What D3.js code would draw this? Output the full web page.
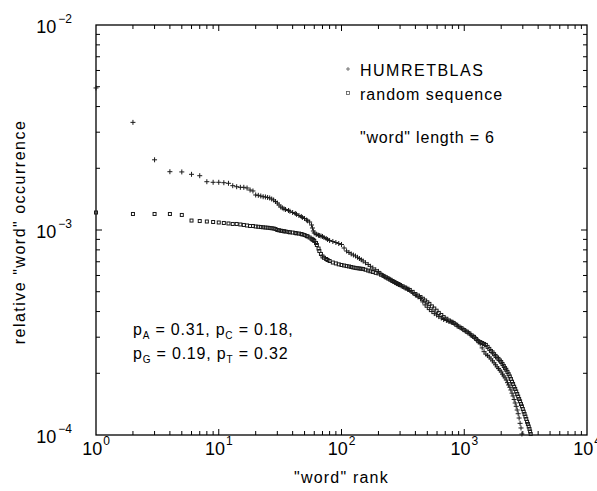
<!DOCTYPE html>
<html>
<head>
<meta charset="utf-8">
<script src="https://cdn.jsdelivr.net/npm/d3@7"></script>
<style>
  body { margin: 0; background: #fff; }
  svg text { font-family: "Liberation Sans", Arial, Helvetica, sans-serif; fill: #000; }
</style>
</head>
<body>
<div class="main"></div>
<script>
// rank / relative occurrence
const humRank = [1,2,3,4,5,6,7,8,9,10,11,12,13,14,15,16,17,18,19,20,21,22,23,24,25,26,27,28,29,30,31,32,33,34,35,37,38,40,42,43,45,47,48,50,52,53,55,57,58,59,60,62,63,65,66,68,70,72,75,77,80,85,90,95,100,105,110,115,120,125,130,135,140,145,150,157,165,172,180,190,200,210,220,230,240,250,260,270,280,290,300,315,330,345,360,380,400,420,440,460,480,500,520,545,570,595,620,650,680,715,750,785,820,860,900,950,1000,1050,1100,1150,1200,1250,1300,1350,1400,1450,1500,1550,1600,1650,1700,1750,1800,1850,1900,1950,2000,2050,2100,2150,2200,2250,2300,2350,2400,2450,2500,2550,2600,2650,2700,2750,2800,2850,2900,2950];
const humValue = [4.93e-3,3.35e-3,2.20e-3,1.925e-3,1.92e-3,1.869e-3,1.84e-3,1.72e-3,1.709e-3,1.709e-3,1.701e-3,1.69e-3,1.645e-3,1.626e-3,1.615e-3,1.615e-3,1.603e-3,1.567e-3,1.55e-3,1.482e-3,1.476e-3,1.465e-3,1.453e-3,1.449e-3,1.441e-3,1.433e-3,1.416e-3,1.401e-3,1.377e-3,1.354e-3,1.324e-3,1.295e-3,1.282e-3,1.268e-3,1.259e-3,1.245e-3,1.234e-3,1.217e-3,1.204e-3,1.193e-3,1.177e-3,1.164e-3,1.151e-3,1.138e-3,1.119e-3,1.109e-3,1.094e-3,1.058e-3,1.023e-3,9.89e-4,9.67e-4,9.56e-4,9.51e-4,9.43e-4,9.40e-4,9.35e-4,9.30e-4,9.19e-4,9.09e-4,8.99e-4,8.89e-4,8.79e-4,8.69e-4,8.59e-4,8.50e-4,8.17e-4,7.90e-4,7.77e-4,7.64e-4,7.55e-4,7.47e-4,7.36e-4,7.26e-4,7.16e-4,7.06e-4,6.92e-4,6.79e-4,6.65e-4,6.53e-4,6.40e-4,6.28e-4,6.11e-4,5.97e-4,5.88e-4,5.80e-4,5.72e-4,5.64e-4,5.56e-4,5.48e-4,5.43e-4,5.39e-4,5.30e-4,5.21e-4,5.14e-4,5.07e-4,4.94e-4,4.82e-4,4.72e-4,4.63e-4,4.46e-4,4.31e-4,4.20e-4,4.09e-4,4.00e-4,3.91e-4,3.85e-4,3.78e-4,3.72e-4,3.66e-4,3.62e-4,3.58e-4,3.55e-4,3.52e-4,3.45e-4,3.38e-4,3.32e-4,3.25e-4,3.19e-4,3.13e-4,3.06e-4,3.01e-4,2.94e-4,2.87e-4,2.78e-4,2.66e-4,2.55e-4,2.48e-4,2.44e-4,2.40e-4,2.35e-4,2.30e-4,2.25e-4,2.20e-4,2.15e-4,2.11e-4,2.07e-4,2.03e-4,1.98e-4,1.94e-4,1.90e-4,1.855e-4,1.80e-4,1.754e-4,1.71e-4,1.658e-4,1.60e-4,1.55e-4,1.49e-4,1.433e-4,1.38e-4,1.324e-4,1.27e-4,1.21e-4,1.14e-4,1.082e-4,1.011e-4];

const rndRank = [1,2,3,4,5,6,7,8,9,10,11,12,13,14,15,16,17,18,19,20,21,22,23,24,25,26,27,28,29,30,31,32,33,34,35,37,38,40,42,43,45,47,48,50,52,53,55,57,58,59,60,62,63,65,66,68,70,72,75,77,80,85,90,95,100,105,110,115,120,125,130,135,140,145,150,157,165,172,180,190,200,210,220,230,240,250,260,270,280,290,300,315,330,345,360,380,400,420,440,460,480,500,520,545,570,595,620,650,680,715,750,785,820,860,900,950,1000,1050,1100,1150,1200,1250,1300,1350,1400,1450,1500,1550,1600,1650,1700,1750,1800,1850,1900,1950,2000,2050,2100,2150,2200,2250,2300,2350,2400,2450,2500,2550,2600,2650,2700,2750,2800,2850,2900,2950,3000,3050,3100,3150,3200,3250,3300,3350,3400,3440,3480];
const rndValue = [1.217e-3,1.197e-3,1.197e-3,1.197e-3,1.184e-3,1.112e-3,1.106e-3,1.10e-3,1.094e-3,1.088e-3,1.082e-3,1.076e-3,1.07e-3,1.07e-3,1.064e-3,1.058e-3,1.052e-3,1.046e-3,1.046e-3,1.04e-3,1.037e-3,1.034e-3,1.031e-3,1.028e-3,1.026e-3,1.023e-3,1.02e-3,1.017e-3,1.011e-3,1.0e-3,9.97e-4,9.92e-4,9.89e-4,9.86e-4,9.83e-4,9.78e-4,9.74e-4,9.72e-4,9.67e-4,9.63e-4,9.61e-4,9.56e-4,9.51e-4,9.45e-4,9.35e-4,9.30e-4,9.19e-4,9.06e-4,8.99e-4,8.94e-4,8.84e-4,8.64e-4,8.45e-4,8.12e-4,7.90e-4,7.64e-4,7.43e-4,7.32e-4,7.22e-4,7.14e-4,7.06e-4,6.94e-4,6.87e-4,6.80e-4,6.75e-4,6.71e-4,6.67e-4,6.64e-4,6.60e-4,6.56e-4,6.53e-4,6.51e-4,6.49e-4,6.47e-4,6.45e-4,6.40e-4,6.34e-4,6.29e-4,6.24e-4,6.18e-4,6.14e-4,6.05e-4,5.97e-4,5.88e-4,5.80e-4,5.72e-4,5.64e-4,5.58e-4,5.51e-4,5.45e-4,5.39e-4,5.31e-4,5.24e-4,5.17e-4,5.10e-4,4.99e-4,4.87e-4,4.79e-4,4.71e-4,4.62e-4,4.53e-4,4.44e-4,4.36e-4,4.24e-4,4.14e-4,4.04e-4,3.94e-4,3.85e-4,3.76e-4,3.69e-4,3.62e-4,3.57e-4,3.52e-4,3.45e-4,3.38e-4,3.32e-4,3.25e-4,3.19e-4,3.13e-4,3.06e-4,3.01e-4,2.94e-4,2.87e-4,2.84e-4,2.81e-4,2.78e-4,2.75e-4,2.69e-4,2.63e-4,2.57e-4,2.53e-4,2.48e-4,2.43e-4,2.39e-4,2.35e-4,2.31e-4,2.27e-4,2.22e-4,2.17e-4,2.12e-4,2.08e-4,2.03e-4,1.98e-4,1.93e-4,1.876e-4,1.82e-4,1.774e-4,1.72e-4,1.677e-4,1.63e-4,1.585e-4,1.54e-4,1.498e-4,1.46e-4,1.416e-4,1.38e-4,1.339e-4,1.30e-4,1.266e-4,1.23e-4,1.197e-4,1.16e-4,1.132e-4,1.10e-4,1.07e-4,1.04e-4,1.011e-4];

const xDecades = [0, 1, 2, 3, 4];
const yDecades = [-2, -3, -4];
const seriesNames = ["HUMRETBLAS", "random sequence"];
const noteLines = [
    [["p", ""], ["A", "sub"], [" = 0.31, p", ""], ["C", "sub"], [" = 0.18,", ""]],
    [["p", ""], ["G", "sub"], [" = 0.19, p", ""], ["T", "sub"], [" = 0.32", ""]]
];

const W = 597, H = 491;
const plotL = 96, plotR = 587, plotT = 25, plotB = 435;

const svg = d3.select(".main").append("svg")
    .attr("width", W)
    .attr("height", H);

const x = d3.scaleLog().domain([1, 1e4]).range([plotL, plotR]);
const y = d3.scaleLog().domain([1e-4, 1e-2]).range([plotB, plotT]);

// frame
svg.append("rect")
    .attr("x", plotL).attr("y", plotT)
    .attr("width", plotR - plotL).attr("height", plotB - plotT)
    .attr("fill", "none").attr("stroke", "#000").attr("stroke-width", 1.3);

const ticksG = svg.append("g").attr("stroke", "#000").attr("stroke-width", 1);

const isMajor = v => Math.abs(Math.log10(v) - Math.round(Math.log10(v))) < 1e-9;

x.ticks().forEach(v => {
    const px = x(v), len = isMajor(v) ? 6 : 4;
    if (v === 1 || v === 1e4) return;
    ticksG.append("line").attr("x1", px).attr("x2", px).attr("y1", plotB).attr("y2", plotB - len);
    ticksG.append("line").attr("x1", px).attr("x2", px).attr("y1", plotT).attr("y2", plotT + len);
});

y.ticks().forEach(v => {
    const py = y(v), len = isMajor(v) ? 6 : 4;
    if (v === 1e-4 || v === 1e-2) return;
    ticksG.append("line").attr("x1", plotL).attr("x2", plotL + len).attr("y1", py).attr("y2", py);
    ticksG.append("line").attr("x1", plotR).attr("x2", plotR - len).attr("y1", py).attr("y2", py);
});

// x tick labels
xDecades.forEach(e => {
    const t = svg.append("text")
        .attr("x", x(Math.pow(10, e)))
        .attr("y", 455)
        .attr("text-anchor", "middle")
        .style("font-size", "18px");
    t.append("tspan").text("10");
    t.append("tspan").text(e).style("font-size", "12px").attr("dy", -10).attr("dx", 1);
});

// y tick labels
yDecades.forEach(e => {
    const t = svg.append("text")
        .attr("x", 72)
        .attr("y", y(Math.pow(10, e)) + 8)
        .attr("text-anchor", "end")
        .style("font-size", "18px");
    t.append("tspan").text("10");
    t.append("tspan").text("\u2212" + Math.abs(e)).style("font-size", "12px").attr("dy", -10).attr("dx", 2);
});

// axis titles
svg.append("text")
    .attr("x", (plotL + plotR) / 2)
    .attr("y", 483)
    .attr("text-anchor", "middle")
    .style("font-size", "16px")
    .style("letter-spacing", "1.2px")
    .text("\"word\" rank");

svg.append("text")
    .attr("transform", "translate(25,232) rotate(-90)")
    .attr("text-anchor", "middle")
    .style("font-size", "16px")
    .style("letter-spacing", "1.5px")
    .text("relative \"word\" occurrence");

// markers
const hum = humRank.map((r, i) => ({ r: r, v: humValue[i] })).filter(d => d.v >= 1e-4);
const rnd = rndRank.map((r, i) => ({ r: r, v: rndValue[i] })).filter(d => d.v >= 1e-4);

svg.append("g").selectAll("rect")
    .data(rnd)
    .enter().append("rect")
    .attr("x", d => x(d.r) - 1.5)
    .attr("y", d => y(d.v) - 1.5)
    .attr("width", 3).attr("height", 3)
    .attr("fill", "none")
    .attr("stroke", "#1a1a1a")
    .attr("stroke-width", 1);

svg.append("g").selectAll("path")
    .data(hum)
    .enter().append("path")
    .attr("transform", d => "translate(" + x(d.r) + "," + y(d.v) + ")")
    .attr("d", "M-2.5,0H2.5M0,-2.5V2.5")
    .attr("stroke", "#1a1a1a")
    .attr("stroke-width", 1);

// legend
const legend = svg.append("g");
legend.append("path")
    .attr("transform", "translate(348,69)")
    .attr("d", "M-2,0H2M0,-2V2")
    .attr("stroke", "#555").attr("stroke-width", 0.8);
legend.append("rect")
    .attr("x", 346.5).attr("y", 91.5).attr("width", 3).attr("height", 3)
    .attr("fill", "none").attr("stroke", "#555").attr("stroke-width", 0.8);
seriesNames.forEach((name, i) => {
    legend.append("text")
        .attr("x", 360)
        .attr("y", 76 + i * 24)
        .style("font-size", "16px")
        .style("letter-spacing", i === 0 ? "1.5px" : "1px")
        .text(name);
});
legend.append("text")
    .attr("x", 360).attr("y", 143)
    .style("font-size", "16px")
    .style("letter-spacing", "0.8px")
    .text("\"word\" length = 6");

// base composition note
noteLines.forEach((parts, i) => {
    const t = svg.append("text")
        .attr("x", 133)
        .attr("y", 335 + i * 24)
        .style("font-size", "16px")
        .style("letter-spacing", "0.8px");
    parts.forEach((p, j) => {
        if (p[1] === "sub") {
            t.append("tspan").text(p[0]).style("font-size", "10px").attr("dy", 4);
        } else {
            t.append("tspan").text(p[0]).attr("dy", j ? -4 : 0);
        }
    });
});
</script>
</body>
</html>
